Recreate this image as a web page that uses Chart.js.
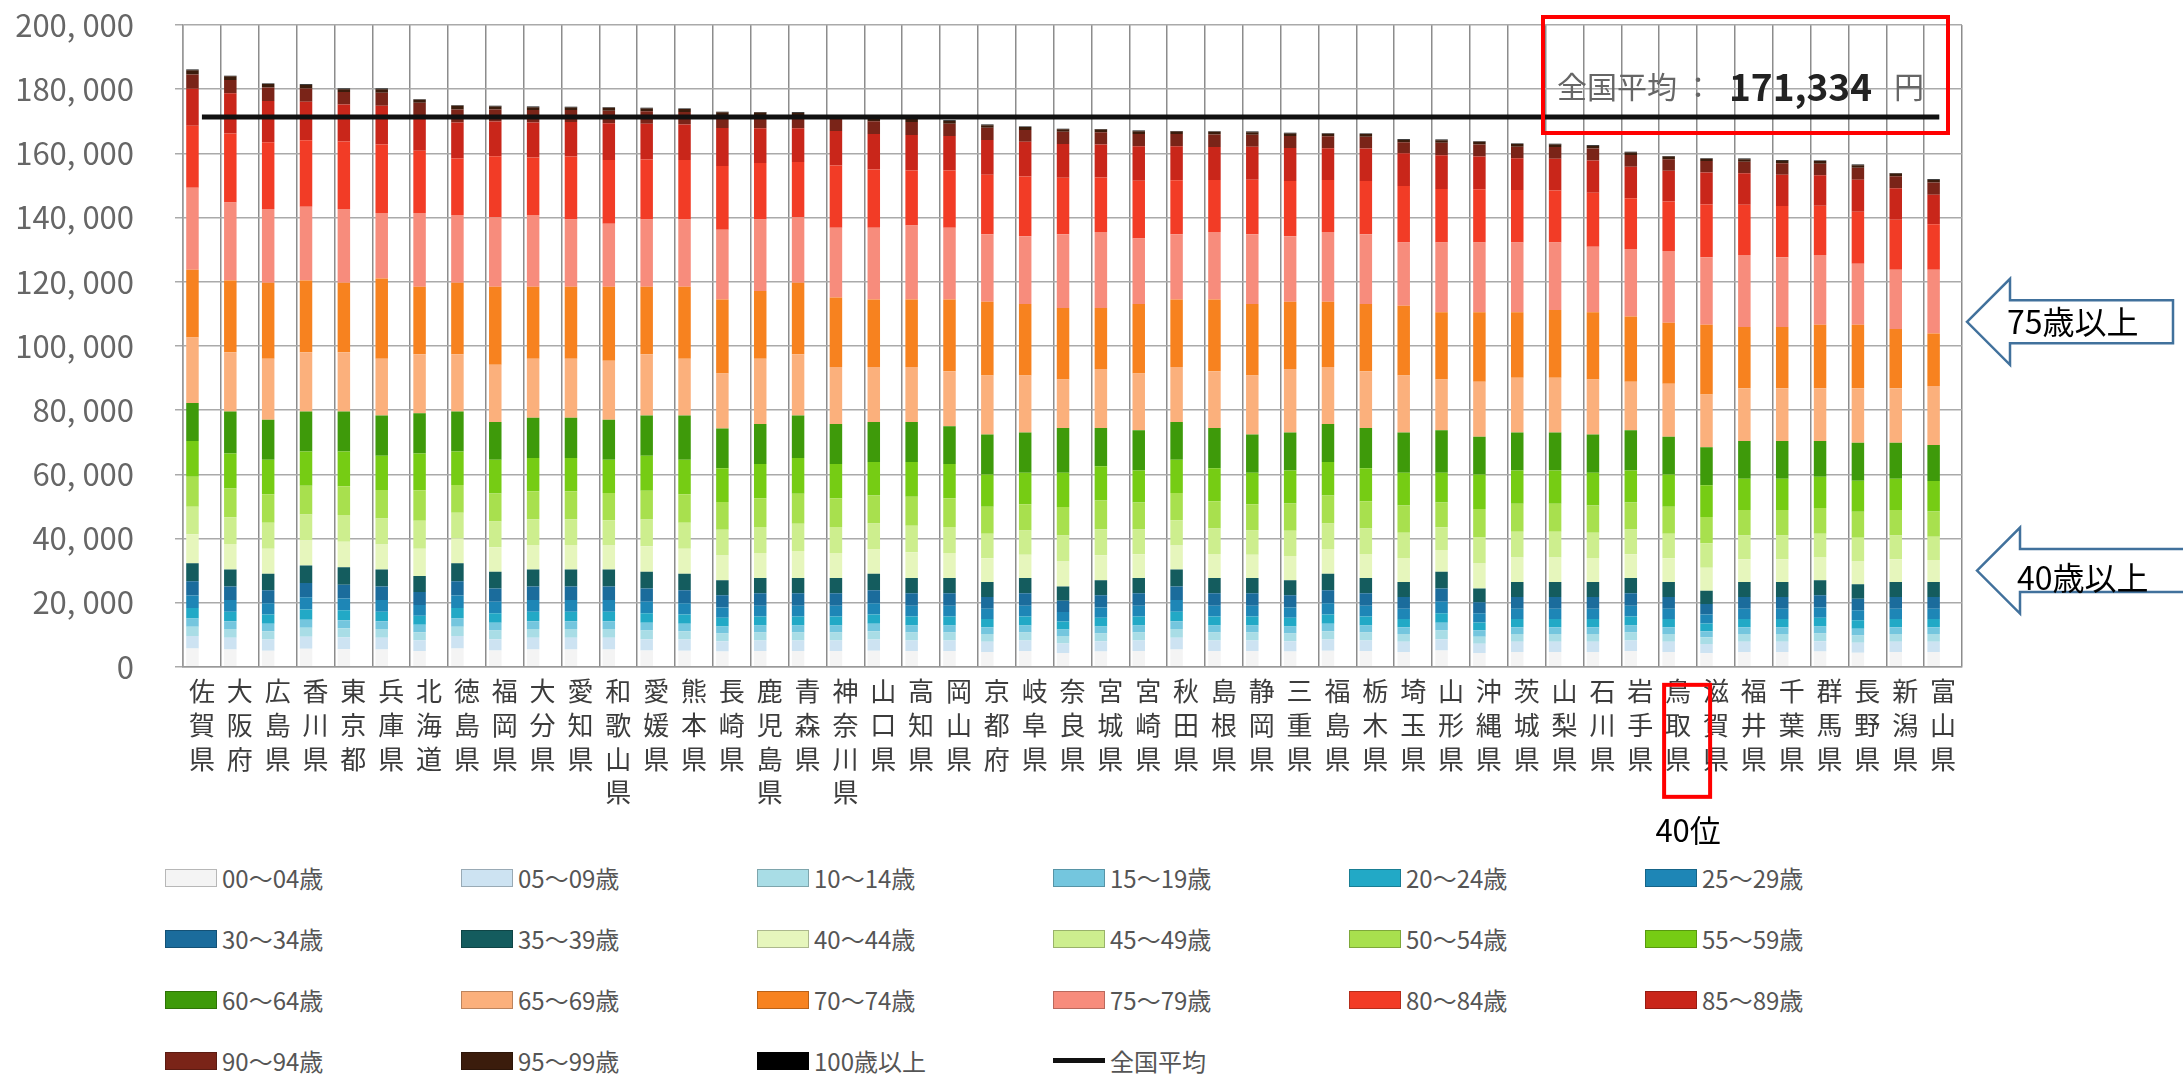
<!DOCTYPE html>
<html lang="ja">
<head>
<meta charset="utf-8">
<title>都道府県別 年齢階級別内訳</title>
<script src="https://cdn.jsdelivr.net/npm/chart.js@4.4.1/dist/chart.umd.min.js"></script>
<style>
  html, body { margin: 0; padding: 0; background: #fff; }
  body { width: 2183px; height: 1081px; overflow: hidden; position: relative;
         font-family: "Noto Sans CJK JP", "Noto Sans", sans-serif; }
  #wrap { position: absolute; left: 0; top: 0; width: 2183px; height: 845px; }
  #legend { position: absolute; left: 165px; top: 847px;
            display: grid; grid-template-columns: repeat(6, 296px); grid-auto-rows: 61px; }
  .item { display: flex; align-items: center; font-size: 24px; color: #555; white-space: nowrap; }
  .sw { display: inline-block; width: 52px; height: 18px; margin-right: 5px;
        box-sizing: border-box; border: 1px solid rgba(0,0,0,0.25); }
  .ln { display: inline-block; width: 52px; height: 5px; margin-right: 5px; }
</style>
</head>
<body>
<div id="wrap"><canvas id="chart"></canvas></div>
<div id="legend"></div>

<script>
const FONT = '"Noto Sans CJK JP", "Noto Sans", sans-serif';

const prefectures = ['佐賀県','大阪府','広島県','香川県','東京都','兵庫県','北海道','徳島県','福岡県','大分県',
  '愛知県','和歌山県','愛媛県','熊本県','長崎県','鹿児島県','青森県','神奈川県','山口県','高知県',
  '岡山県','京都府','岐阜県','奈良県','宮城県','宮崎県','秋田県','島根県','静岡県','三重県',
  '福島県','栃木県','埼玉県','山形県','沖縄県','茨城県','山梨県','石川県','岩手県','鳥取県',
  '滋賀県','福井県','千葉県','群馬県','長野県','新潟県','富山県'];

const ageLabels = ['00～04歳','05～09歳','10～14歳','15～19歳','20～24歳','25～29歳',
  '30～34歳','35～39歳','40～44歳','45～49歳','50～54歳','55～59歳',
  '60～64歳','65～69歳','70～74歳','75～79歳','80～84歳','85～89歳',
  '90～94歳','95～99歳','100歳以上'];

const ageColors = ['#f4f4f4','#cde3f2','#a9dde6','#74c6de','#22a9c6','#1e86b6',
  '#1b6c9c','#145c5e','#e6f6bc','#cdee8e','#a8e04e','#76cc14',
  '#3e9a0a','#fbb07c','#f7821f','#f78c7c','#f23c26','#c9261a',
  '#7a2418','#3b1c0c','#000000'];

// 円 per person, one value per prefecture (same order as prefectures)
const age00_04 = [5700,5400,5000,5600,5500,5400,4900,5700,5100,5400, 5400,5400,5100,5000,4800,4900,4900,4900,5000,4900,
  4900,4600,4900,4300,4800,4900,5400,4900,4900,4800, 5000,4900,4600,5100,4300,4600,4600,4600,4900,4600, 4200,4600,4600,4800,4400,4600,4600];
const age05_09 = [3900,3700,3500,3800,3700,3700,3400,3900,3500,3700, 3700,3700,3500,3500,3200,3300,3300,3300,3500,3300,
  3300,3200,3300,3000,3200,3300,3700,3300,3300,3200, 3500,3300,3200,3500,2900,3200,3200,3200,3300,3200, 2900,3200,3200,3200,3100,3200,3200];
const age10_14 = [2900,2700,2600,2800,2800,2700,2500,2900,2700,2700, 2700,2700,2700,2600,2400,2500,2500,2500,2600,2500,
  2500,2400,2500,2300,2400,2500,2700,2500,2500,2400, 2600,2500,2400,2700,2200,2400,2400,2400,2500,2400, 2100,2400,2400,2400,2300,2400,2400];
const age15_19 = [2600,2400,2300,2500,2500,2400,2300,2600,2400,2400, 2400,2400,2400,2300,2200,2200,2200,2200,2300,2200,
  2200,2100,2200,2000,2200,2200,2400,2200,2200,2200, 2300,2200,2100,2400,2000,2100,2100,2100,2200,2100, 1900,2100,2100,2200,2100,2100,2100];
const age20_24 = [3200,3000,2900,3200,3100,3000,2800,3200,3000,3000, 3000,3000,3000,2900,2700,2800,2800,2800,2900,2800,
  2800,2600,2800,2500,2700,2800,3000,2800,2800,2700, 2900,2800,2600,3000,2400,2600,2600,2600,2800,2600, 2400,2600,2600,2700,2600,2600,2600];
const age25_29 = [3900,3600,3500,3800,3700,3600,3400,3900,3600,3600, 3600,3600,3600,3500,3200,3300,3300,3300,3500,3300,
  3300,3200,3300,3000,3200,3300,3600,3300,3300,3200, 3500,3300,3200,3600,2900,3200,3200,3200,3300,3200, 2800,3200,3200,3200,3100,3200,3200];
const age30_34 = [4500,4200,4100,4400,4300,4200,4000,4500,4100,4200, 4200,4200,4100,4100,3800,3900,3900,3900,4100,3900,
  3900,3700,3900,3500,3800,3900,4200,3900,3900,3800, 4100,3900,3700,4100,3400,3700,3700,3700,3900,3700, 3300,3700,3700,3800,3600,3700,3700];
const age35_39 = [5600,5300,5100,5500,5400,5300,5000,5600,5200,5300, 5300,5300,5200,5100,4700,4800,4800,4800,5100,4800,
  4800,4600,4800,4400,4700,4800,5300,4800,4800,4700, 5100,4800,4600,5200,4300,4600,4600,4600,4800,4600, 4100,4600,4600,4700,4500,4600,4600];
const age40_44 = [9000,8000,7800,7800,8000,7800,8500,7700,7700,7700, 7700,7500,8000,7800,7700,7800,8400,7800,7700,8000,
  7800,7400,7200,7800,7800,7400,7500,7500,7200,7500, 7700,7500,7500,6800,7800,7700,7700,7500,7400,7400, 7200,7100,7100,7100,7100,7100,6900];
const age45_49 = [8600,8300,8100,8100,8300,8100,8700,8000,8000,8000, 8000,7900,8300,8100,8000,8100,8500,8100,8000,8300,
  8100,7700,7600,8100,8100,7700,7900,7900,7600,7900, 8000,7900,7900,7100,8100,8000,8000,7900,7700,7700, 7600,7400,7400,7400,7400,7400,7200];
const age50_54 = [9300,9000,8900,8900,9000,8900,9500,8700,8700,8700, 8700,8500,9000,8900,8700,8900,9300,8900,8700,9000,
  8900,8400,8200,8900,8900,8400,8500,8500,8200,8500, 8700,8500,8500,7700,8900,8700,8700,8500,8400,8400, 8200,8000,8000,8000,8100,8000,7900];
const age55_59 = [11200,10900,10700,10700,10800,10700,11500,10400,10500,10400, 10400,10300,10900,10700,10500,10700,11200,10700,10400,10800,
  10700,10000,9800,10700,10700,10000,10300,10300,9800,10300, 10400,10300,10200,9300,10700,10400,10400,10200,10000,10000, 9900,9700,9700,9700,9700,9700,9500];
const age60_64 = [11800,13100,12500,12500,12500,12500,12500,12500,11800,12500, 12500,12500,12500,13800,12400,12500,13200,12500,12500,12500,
  11800,12500,12500,13900,11900,12500,11800,12500,11900,11800, 11900,12500,12500,13200,11800,11800,11800,11900,12500,11800, 11800,11800,11800,11200,11800,11200,11200];
const age65_69 = [20400,18400,19000,18400,18400,17700,18400,17800,17800,18400, 18400,18400,19100,17700,17100,20300,19100,17700,17100,17100,
  17100,18400,17800,15100,18400,17700,17100,17700,18400,19800, 17700,17700,17800,15800,17100,17100,17100,17100,15100,16500, 16500,16400,16400,16400,17000,17000,18400];
const age70_74 = [21100,22400,23700,22400,21700,25000,21000,22300,24300,22400, 22400,23000,21000,22400,23100,21100,22300,21700,21100,21100,
  22400,23000,22300,22300,19000,21700,21100,22400,22300,21000, 20400,21000,21700,21000,21700,20400,21100,21000,20400,19000, 21700,19100,19100,19800,19800,18500,16400];
const age75_79 = [25600,24300,23000,23000,23000,20400,23000,21100,21700,22400, 21000,19700,21000,21000,21700,22300,20400,21700,22300,23000,
  22300,21000,21100,23000,23700,20400,20300,21000,21700,20400, 21700,21700,19700,21700,21700,21700,21000,20400,21000,22400, 21000,22400,21700,21700,19000,18400,19800];
const age80_84 = [19300,21500,20800,20700,21000,21400,19400,17600,19000,17900, 19600,19800,18700,18500,19900,17600,17200,19400,18200,17200,
  17900,18500,18600,17600,17000,18000,16800,16200,17000,17200, 16200,16600,17600,16700,16600,16400,16200,16800,15800,15400, 16500,15700,16000,15400,16200,15600,14200];
const age85_89 = [11500,12500,12800,12000,11500,12000,11000,11200,10800,10900, 10800,11500,11100,11100,11800,10800,10500,10800,11000,11000,
  10700,10900,10800,10500,10300,10700,10600,10300,10300,10300, 9900,10100,10200,10500,10200,9900,9900,10100,9800,9600, 9900,9800,9700,9500,10000,9800,9200];
const age90_94 = [4500,4200,4200,4100,3900,4100,4000,4100,3800,3900, 3700,3900,3900,3900,4000,4000,3900,3700,4000,4100,
  3800,3800,3700,3800,3800,3800,3800,3900,3700,3700, 3700,3700,3500,3900,3800,3600,3700,3700,3700,3600, 3600,3600,3600,3600,3700,3800,3800];
const age95_99 = [1300,1100,1100,1100,900,1100,900,1100,900,900, 800,900,900,900,900,900,900,800,800,900,
  900,800,900,800,800,900,800,800,800,800, 800,800,700,800,800,800,800,800,800,800, 700,800,800,800,800,800,800];
const age100 = [200,200,200,200,200,200,200,200,200,200, 200,200,200,200,200,200,200,200,200,200,
  200,200,200,200,200,200,200,200,200,200, 200,200,200,200,200,200,200,200,200,200, 200,200,200,200,200,200,200];

const ageSeries = [age00_04, age05_09, age10_14, age15_19, age20_24, age25_29, age30_34, age35_39,
  age40_44, age45_49, age50_54, age55_59, age60_64, age65_69, age70_74, age75_79,
  age80_84, age85_89, age90_94, age95_99, age100];

const nationalAverage = 171334;
// the average line runs from the first bar's centre to just short of the right edge (category units)
const avgSpan = [0.5, 46.4];
const rankIndex = 39;        // 鳥取県, 40位
const yTicks = { min: 0, max: 200000, step: 20000 };

function yen(v) {
  return v.toLocaleString('en-US').replace(',', ', ');
}

// red boxes, arrows and notes drawn on top of the chart
const notes = {
  id: 'notes',
  afterDraw(chart) {
    const { ctx, chartArea, scales } = chart;
    const x = scales.x, y = scales.y;
    ctx.save();

    // average box
    const bx = chartArea.right - 419, by = 17, bw = 405, bh = 116;
    ctx.strokeStyle = '#ff0000';
    ctx.lineWidth = 4;
    ctx.strokeRect(bx, by, bw, bh);
    ctx.textBaseline = 'middle';
    ctx.textAlign = 'left';
    let tx = bx + 14;
    const ty = by + 70;
    ctx.font = '30px ' + FONT;
    ctx.fillStyle = '#666';
    ctx.fillText('全国平均', tx, ty);
    tx += ctx.measureText('全国平均').width + 6;
    ctx.fillText('：', tx, ty);
    tx += 46;
    ctx.font = 'bold 37px ' + FONT;
    ctx.fillStyle = '#222';
    const avgText = nationalAverage.toLocaleString('en-US');
    ctx.fillText(avgText, tx, ty);
    tx += ctx.measureText(avgText).width + 22;
    ctx.font = '30px ' + FONT;
    ctx.fillStyle = '#666';
    ctx.fillText('円', tx, ty);

    // rank box under 鳥取県
    const rx = x.getPixelForValue(rankIndex);
    ctx.strokeStyle = '#ff0000';
    ctx.lineWidth = 4;
    ctx.strokeRect(rx - 14, chartArea.bottom + 18, 46, 112);
    ctx.fillStyle = '#000';
    ctx.font = '31px ' + FONT;
    ctx.textAlign = 'center';
    ctx.fillText('40位', rx + 10, chartArea.bottom + 163);

    // arrows
    function arrow(tipX, cy, bodyEnd, text, textDy) {
      const hh = 43, bh2 = 21.5, hl = 43;
      ctx.beginPath();
      ctx.moveTo(tipX, cy);
      ctx.lineTo(tipX + hl, cy - hh);
      ctx.lineTo(tipX + hl, cy - bh2);
      ctx.lineTo(bodyEnd, cy - bh2);
      ctx.lineTo(bodyEnd, cy + bh2);
      ctx.lineTo(tipX + hl, cy + bh2);
      ctx.lineTo(tipX + hl, cy + hh);
      ctx.closePath();
      ctx.fillStyle = '#fff';
      ctx.fill();
      ctx.strokeStyle = '#41719c';
      ctx.lineWidth = 2.5;
      ctx.stroke();
      ctx.fillStyle = '#000';
      ctx.font = '32px ' + FONT;
      ctx.textAlign = 'left';
      ctx.fillText(text, tipX + 40, cy + textDy);
    }
    arrow(chartArea.right + 5, y.getPixelForValue(107500), chartArea.right + 211, '75歳以上', 0);
    arrow(chartArea.right + 15, y.getPixelForValue(30000), chartArea.right + 240, '40歳以上', 7);

    ctx.restore();
  }
};

const datasets = ageSeries.map((d, i) => ({
  type: 'bar',
  label: ageLabels[i],
  data: d,
  backgroundColor: ageColors[i],
  borderWidth: 0,
  stack: 'ages',
  order: 1,
  xAxisID: 'x',
  barPercentage: 0.66,
  categoryPercentage: 1.0
}));
datasets.push({
  type: 'line',
  label: '全国平均',
  data: avgSpan.map(v => ({ x: v, y: nationalAverage })),
  xAxisID: 'x2',
  stack: 'avg',
  borderColor: '#111',
  backgroundColor: '#111',
  borderWidth: 5,
  pointRadius: 0,
  order: 0
});

const chart = new Chart(document.getElementById('chart'), {
  type: 'bar',
  data: {
    labels: prefectures.map(p => p.split('')),
    datasets: datasets
  },
  options: {
    responsive: true,
    maintainAspectRatio: false,
    animation: false,
    layout: { padding: { left: 7, right: 221, top: 25, bottom: 28 } },
    plugins: {
      legend: { display: false },
      tooltip: { enabled: false }
    },
    scales: {
      x: {
        stacked: true,
        grid: { color: '#8c8c8c', lineWidth: 1.5, offset: true, drawTicks: false },
        border: { color: '#999', width: 1.5 },
        ticks: {
          autoSkip: false, maxRotation: 0, minRotation: 0, padding: 8,
          color: '#3c3c3c',
          font: { size: 26, family: FONT, lineHeight: 1.29 }
        }
      },
      x2: { type: 'linear', display: false, offset: false, min: 0, max: prefectures.length },
      y: {
        stacked: true,
        min: yTicks.min, max: yTicks.max,
        grid: { color: '#aaa', lineWidth: 1.5, tickLength: 8 },
        border: { color: '#999', width: 1.5 },
        // fixed axis width; labels sit well left of the axis like the original
        afterFit: s => { s.width = 176; s.paddingTop = 0; s.paddingBottom = 0; },
        ticks: {
          stepSize: yTicks.step,
          padding: 41,
          color: '#666',
          font: { size: 31, family: FONT },
          callback: v => yen(v)
        }
      }
    }
  },
  plugins: [notes]
});

// legend grid, built from the chart's own datasets
const legendBox = document.getElementById('legend');
chart.data.datasets.forEach(ds => {
  const item = document.createElement('div');
  item.className = 'item';
  const sw = document.createElement('span');
  if (ds.type === 'line') {
    sw.className = 'ln';
    sw.style.background = ds.borderColor;
  } else {
    sw.className = 'sw';
    sw.style.background = ds.backgroundColor;
  }
  item.appendChild(sw);
  item.appendChild(document.createTextNode(ds.label));
  legendBox.appendChild(item);
});
</script>
</body>
</html>
